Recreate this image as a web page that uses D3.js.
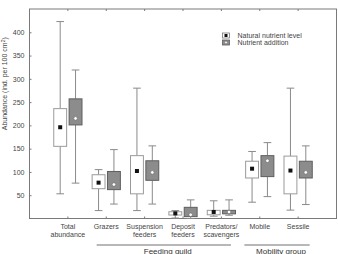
<!DOCTYPE html>
<html><head><meta charset="utf-8">
<script src="https://cdn.jsdelivr.net/npm/d3@7"></script>
<style>
html,body{margin:0;padding:0;background:#fff;}
svg{display:block;font-family:"Liberation Sans",Arial,sans-serif;}
</style></head>
<body><div id="chart"></div>
<script>
const categories = [["Total","abundance"],["Grazers"],["Suspension","feeders"],["Deposit","feeders"],["Predators/","scavengers"],["Mobile"],["Sessile"]];
const seriesNames = ["Natural nutrient level","Nutrient addition"];
// [whiskerLow, boxLow, mean, boxHigh, whiskerHigh]
const natural = [
  [53,155,196,236,423],
  [17,64,77,94,105],
  [17,53,102,135,280],
  [1,7.5,11,14.5,17],
  [5,8,14,17.5,38],
  [35,87,107,123,144],
  [18,53,103,134,280]
];
const addition = [
  [76,201,215,257,319],
  [31,62,73,101,148],
  [31,82,99,124,156],
  [0,4,8,24,40],
  [7,10,14,17.5,40],
  [47,90,124,135,163],
  [30,87,99,123,156]
];
const yTicks = [50,100,150,200,250,300,350,400];
const groups = [{name:"Feeding guild", from:1.75, to:5.25},{name:"Mobility group", from:5.6, to:7.3}];

const W=338,H=254;
const svg=d3.select("#chart").append("svg").attr("width",W).attr("height",H);
const L=29.5,R=336.5,T=9,B=218.5;
const x=d3.scaleLinear().domain([0,8]).range([L,R]);
const y=d3.scaleLinear().domain([0,450]).range([B,T]);
const frameCol="#7a7a7a";

// frame
svg.append("rect").attr("x",L).attr("y",T).attr("width",R-L).attr("height",B-T)
  .attr("fill","none").attr("stroke",frameCol).attr("stroke-width",1);

// y axis (inward ticks)
const yAx=svg.append("g").attr("transform",`translate(${L},0)`)
  .call(d3.axisLeft(y).tickValues(yTicks).tickSize(-2).tickPadding(5));
yAx.select(".domain").remove();
yAx.selectAll("line").attr("stroke",frameCol);
yAx.selectAll("text").attr("font-size",7).attr("fill","#444").attr("font-family","Liberation Sans, Arial, sans-serif");

// top/bottom category ticks inward
const catIdx=d3.range(1,categories.length+1);
svg.append("g").selectAll("line.tt").data(catIdx).join("line")
  .attr("x1",d=>x(d)).attr("x2",d=>x(d)).attr("y1",T).attr("y2",T+2).attr("stroke",frameCol);
svg.append("g").selectAll("line.bt").data(catIdx).join("line")
  .attr("x1",d=>x(d)).attr("x2",d=>x(d)).attr("y1",B).attr("y2",B-2).attr("stroke",frameCol);

// category labels
const lab=svg.append("g");
categories.forEach((c,i)=>{
  const t=lab.append("text").attr("x",x(i+1)).attr("y",229).attr("text-anchor","middle")
    .attr("font-size",7).attr("fill","#444");
  c.forEach((s,j)=>t.append("tspan").attr("x",x(i+1)).attr("dy",j?8:0).text(s));
});

// y title
svg.append("text").attr("transform",`translate(5,${(T+B)/2 - 30}) rotate(-90)`)
  .attr("text-anchor","middle").attr("font-size",7).attr("fill","#444")
  .attr("dy","0.35em")
  .html('Abundance (ind. per 100 cm<tspan dy="-2" font-size="5">2</tspan><tspan dy="2">)</tspan>');

// boxes
const off=0.2, hw=0.168, cap=0.1;
function drawSeries(data, dx, boxFill, boxStroke, isAdd){
  const g=svg.append("g");
  data.forEach((d,i)=>{
    const cx=x(i+1+dx);
    const [wl,bl,m,bh,wh]=d;
    const whCol="#8a8a8a";
    g.append("line").attr("x1",cx).attr("x2",cx).attr("y1",y(wh)).attr("y2",y(bh)).attr("stroke",whCol);
    g.append("line").attr("x1",cx).attr("x2",cx).attr("y1",y(bl)).attr("y2",y(wl)).attr("stroke",whCol);
    const cw=x(cap)-x(0);
    g.append("line").attr("x1",cx-cw).attr("x2",cx+cw).attr("y1",y(wh)).attr("y2",y(wh)).attr("stroke",whCol);
    g.append("line").attr("x1",cx-cw).attr("x2",cx+cw).attr("y1",y(wl)).attr("y2",y(wl)).attr("stroke",whCol);
    const bw=x(hw)-x(0);
    g.append("rect").attr("x",cx-bw).attr("width",2*bw).attr("y",y(bh)).attr("height",Math.max(1,y(bl)-y(bh)))
      .attr("fill",boxFill).attr("stroke",boxStroke).attr("stroke-width",1);
    if(isAdd){
      g.append("circle").attr("cx",cx).attr("cy",y(m)).attr("r",1.8).attr("fill","#fff").attr("stroke","#6a6a6a").attr("stroke-width",0.6);
    } else {
      g.append("rect").attr("x",cx-2).attr("y",y(m)-2).attr("width",4).attr("height",4).attr("fill","#111");
    }
  });
}
drawSeries(natural,-off,"#fff","#9a9a9a",false);
drawSeries(addition,off,"#8c8c8c","#5e5e5e",true);

// legend
const lg=svg.append("g");
[0,1].forEach(i=>{
  const ly=35.5+i*7;
  lg.append("rect").attr("x",222.5).attr("y",ly-2.5).attr("width",7).attr("height",5)
    .attr("fill",i?"#8c8c8c":"#fff").attr("stroke",i?"#5e5e5e":"#777").attr("stroke-width",0.8);
  if(i) lg.append("circle").attr("cx",226).attr("cy",ly).attr("r",1.2).attr("fill","#fff").attr("stroke","#666").attr("stroke-width",0.4);
  else lg.append("rect").attr("x",224.5).attr("y",ly-1.5).attr("width",3).attr("height",3).attr("fill","#111");
  lg.append("text").attr("x",237.5).attr("y",ly).attr("dy","0.35em").attr("font-size",7).attr("fill","#444").text(seriesNames[i]);
});

// group lines
groups.forEach(gp=>{
  svg.append("line").attr("x1",x(gp.from)).attr("x2",x(gp.to)).attr("y1",245).attr("y2",245)
    .attr("stroke","#b8b8b8").attr("stroke-width",2);
  svg.append("text").attr("x",(x(gp.from)+x(gp.to))/2+4).attr("y",253.5).attr("text-anchor","middle")
    .attr("font-size",8).attr("fill","#333").text(gp.name);
});
</script>
</body></html>
